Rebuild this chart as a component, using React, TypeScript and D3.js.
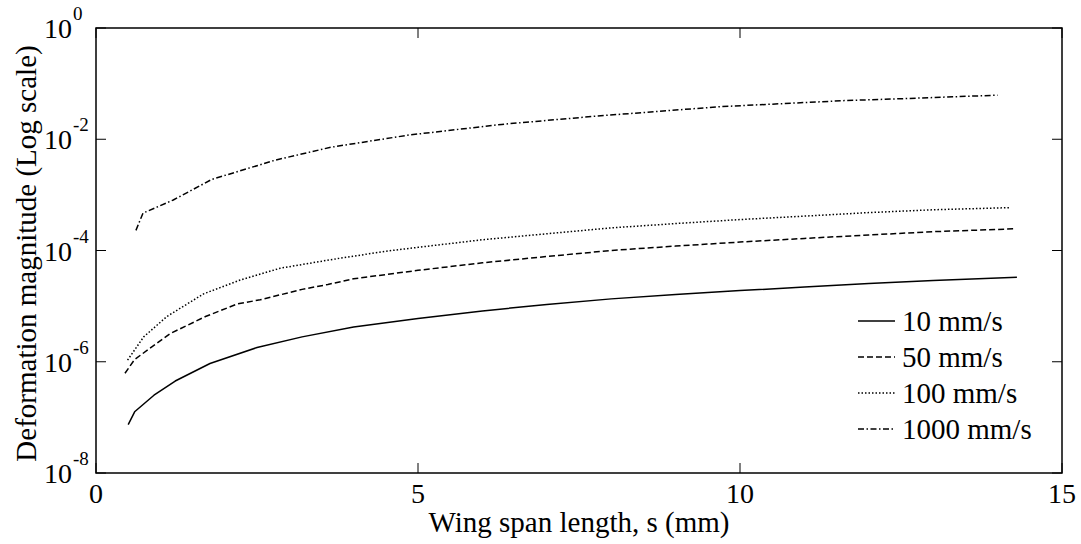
import React from 'react';
import * as d3 from 'd3';

// wing span (mm) and deformation magnitude for each velocity
const s10 = [0.5, 0.6, 0.9, 1.23, 1.77, 2.5, 3.2, 4, 5, 6, 7, 8, 9, 10, 11, 12, 13, 14.3];
const v10 = [7.4e-8, 1.26e-7, 2.5e-7, 4.5e-7, 9.3e-7, 1.8e-6, 2.8e-6, 4.2e-6, 6.0e-6, 8.2e-6, 1.07e-5, 1.35e-5, 1.62e-5, 1.9e-5, 2.2e-5, 2.55e-5, 2.9e-5, 3.3e-5];

const s50 = [0.45, 0.6, 1.15, 1.7, 2.2, 2.55, 3.2, 3.6, 4, 5, 6, 7, 8, 9, 10, 11, 12, 13, 14.25];
const v50 = [6.2e-7, 1.1e-6, 3.2e-6, 6.5e-6, 1.1e-5, 1.3e-5, 2.0e-5, 2.45e-5, 3.1e-5, 4.4e-5, 6.0e-5, 7.8e-5, 1.0e-4, 1.2e-4, 1.42e-4, 1.65e-4, 1.9e-4, 2.18e-4, 2.45e-4];

const s100 = [0.49, 0.74, 1.1, 1.67, 2.24, 2.86, 3.63, 4.5, 5, 6, 7, 8, 9, 10, 11, 12, 13, 14.2];
const v100 = [1.07e-6, 2.8e-6, 6.5e-6, 1.66e-5, 2.95e-5, 4.8e-5, 6.8e-5, 9.7e-5, 1.14e-4, 1.56e-4, 2.0e-4, 2.55e-4, 3.05e-4, 3.6e-4, 4.15e-4, 4.8e-4, 5.4e-4, 5.9e-4];

const s1000 = [0.62, 0.73, 1.2, 1.8, 2.78, 3.65, 4.86, 6.3, 7.76, 9.69, 11.62, 12.59, 14.0];
const v1000 = [2.3e-4, 4.7e-4, 8.1e-4, 1.9e-3, 4.2e-3, 7.2e-3, 1.19e-2, 1.85e-2, 2.6e-2, 3.85e-2, 4.95e-2, 5.4e-2, 6.2e-2];

const seriesNames = ['10 mm/s', '50 mm/s', '100 mm/s', '1000 mm/s'];
const xTicks = [0, 5, 10, 15];
const yExponents = [0, -2, -4, -6, -8];

const W = 1081, H = 544;
const margin = { top: 28, right: 19, bottom: 71, left: 96 };
const font = '"Liberation Serif", "Times New Roman", serif';

const dashes = ['none', '6 3', '1.5 2', '6 2.5 1.5 2.5'];

export default function App() {
  const x = d3.scaleLinear().domain([0, 15]).range([margin.left, W - margin.right]);
  const y = d3.scaleLog().domain([1e-8, 1]).range([H - margin.bottom, margin.top]);

  const sets = [
    { s: s10, v: v10 },
    { s: s50, v: v50 },
    { s: s100, v: v100 },
    { s: s1000, v: v1000 },
  ];

  const line = d3.line<[number, number]>()
    .x(d => x(d[0]))
    .y(d => y(d[1]));

  const x0 = x(0), x1 = x(15), yT = y(1), yB = y(1e-8);
  const tick = 10;

  return (
    <svg width={W} height={H} style={{ position: 'absolute', left: 0, top: 0, background: '#fff' }}
      fontFamily={font}>
      <rect x={0} y={0} width={W} height={H} fill="#fff" />

      {sets.map((d, i) => (
        <path key={i}
          d={line(d.s.map((sv, j) => [sv, d.v[j]] as [number, number])) || ''}
          fill="none" stroke="#000" strokeWidth={1.5}
          strokeDasharray={dashes[i]} strokeLinejoin="round" />
      ))}

      {/* frame */}
      <rect x={x0} y={yT} width={x1 - x0} height={yB - yT} fill="none" stroke="#000" strokeWidth={1.5} />

      {/* x ticks */}
      {xTicks.map(t => (
        <g key={'x' + t}>
          <line x1={x(t)} x2={x(t)} y1={yB} y2={yB - tick} stroke="#000" strokeWidth={1} />
          <line x1={x(t)} x2={x(t)} y1={yT} y2={yT + tick} stroke="#000" strokeWidth={1} />
          <text x={x(t)} y={503} fontSize={28} textAnchor="middle">{t}</text>
        </g>
      ))}

      {/* y ticks */}
      {yExponents.map(e => (
        <g key={'y' + e}>
          <line x1={x0} x2={x0 + tick} y1={y(Math.pow(10, e))} y2={y(Math.pow(10, e))} stroke="#000" strokeWidth={1} />
          <line x1={x1} x2={x1 - tick} y1={y(Math.pow(10, e))} y2={y(Math.pow(10, e))} stroke="#000" strokeWidth={1} />
          <text x={72} y={y(Math.pow(10, e)) + 10} fontSize={28} textAnchor="end">10</text>
          <text x={73} y={y(Math.pow(10, e)) - 8} fontSize={19} textAnchor="start">{e}</text>
        </g>
      ))}

      <text x={(x0 + x1) / 2} y={532} fontSize={29} textAnchor="middle">Wing span length, s (mm)</text>
      <text transform={`translate(36,${(yT + yB) / 2 + 3}) rotate(-90)`} fontSize={29} textAnchor="middle">
        Deformation magnitude (Log scale)
      </text>

      {/* legend */}
      {seriesNames.map((n, i) => (
        <g key={n} transform={`translate(858,${321 + i * 36})`}>
          <line x1={0} x2={37} y1={0} y2={0} stroke="#000" strokeWidth={1.5} strokeDasharray={dashes[i]} />
          <text x={44} y={10} fontSize={29}>{n}</text>
        </g>
      ))}
    </svg>
  );
}
